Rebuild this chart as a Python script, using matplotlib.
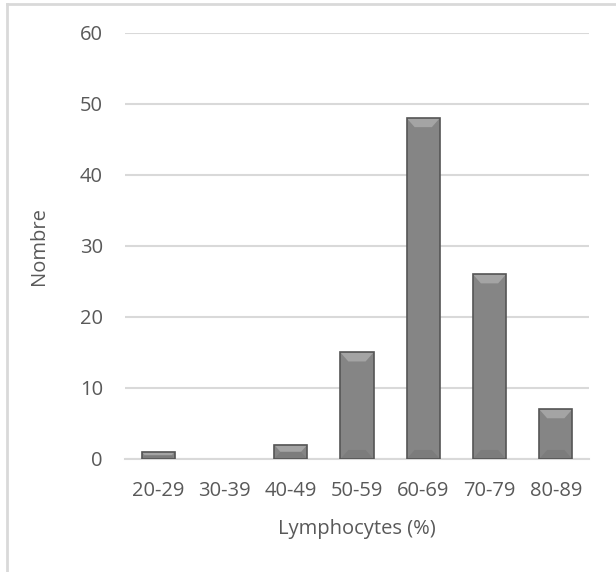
import matplotlib.pyplot as plt
import matplotlib.patches as mpatches
from matplotlib.lines import Line2D
import numpy as np

categories = ['20-29', '30-39', '40-49', '50-59', '60-69', '70-79', '80-89']
counts = [1, 0, 2, 15, 48, 26, 7]
yticks = [0, 10, 20, 30, 40, 50, 60]

plt.rcParams['font.family'] = ['Open Sans', 'DejaVu Sans']

fig = plt.figure(figsize=(6.16, 5.72), dpi=100)
ax = fig.add_axes([0.203, 0.1976, 0.753, 0.7448])

x = np.arange(len(categories))
width = 0.5
bars = ax.bar(x, counts, width=width, color='#858585', edgecolor='none',
              linewidth=0, zorder=3)

# bevel on top and bottom of each bar (lighter top, darker bottom)
dx = 0.12  # x depth of bevel in category units
dy = 60 / 426 * 9  # ~9px in data units
for b in bars:
    x0, w, h = b.get_x(), b.get_width(), b.get_height()
    if h <= 0:
        continue
    d = min(dy, h / 2)
    ddx = dx * d / dy
    top = mpatches.Polygon([[x0, h], [x0 + w, h], [x0 + w - ddx, h - d], [x0 + ddx, h - d]],
                           closed=True, facecolor='#a4a4a4', edgecolor='none', zorder=4)
    bot = mpatches.Polygon([[x0, 0], [x0 + w, 0], [x0 + w - ddx, d], [x0 + ddx, d]],
                           closed=True, facecolor='#7c7c7c', edgecolor='none', zorder=4)
    ax.add_patch(top)
    ax.add_patch(bot)
    ax.add_patch(mpatches.Rectangle((x0, 0), w, h, fill=False, edgecolor='#555555',
                                    linewidth=1.2, zorder=5))

ax.set_xlim(-0.5, len(categories) - 0.5)
ax.set_ylim(0, 60)
ax.set_yticks(yticks)
ax.set_xticks(x)
ax.set_xticklabels(categories)
ax.yaxis.grid(True, color='#d9d9d9', linewidth=1.5, zorder=0)
ax.set_axisbelow(True)
for s in ['top', 'right', 'left']:
    ax.spines[s].set_visible(False)
ax.spines['bottom'].set_color('#d9d9d9')
ax.spines['bottom'].set_linewidth(1.5)
ax.tick_params(axis='both', length=0, labelsize=14.5, colors='#595959')
ax.tick_params(axis='y', pad=16)
ax.tick_params(axis='x', pad=16)

ax.set_ylabel('Nombre', fontsize=14.5, color='#595959', labelpad=22)
ax.set_xlabel('Lymphocytes (%)', fontsize=14.5, color='#595959', labelpad=13)

# chart border remnants (left and top)
fig.add_artist(Line2D([7 / 616, 7 / 616], [0, 1 - 4 / 572], color='#d9d9d9', linewidth=2))
fig.add_artist(Line2D([7 / 616, 1], [1 - 4 / 572, 1 - 4 / 572], color='#d9d9d9', linewidth=2))

fig.savefig('out.png', dpi=100)
